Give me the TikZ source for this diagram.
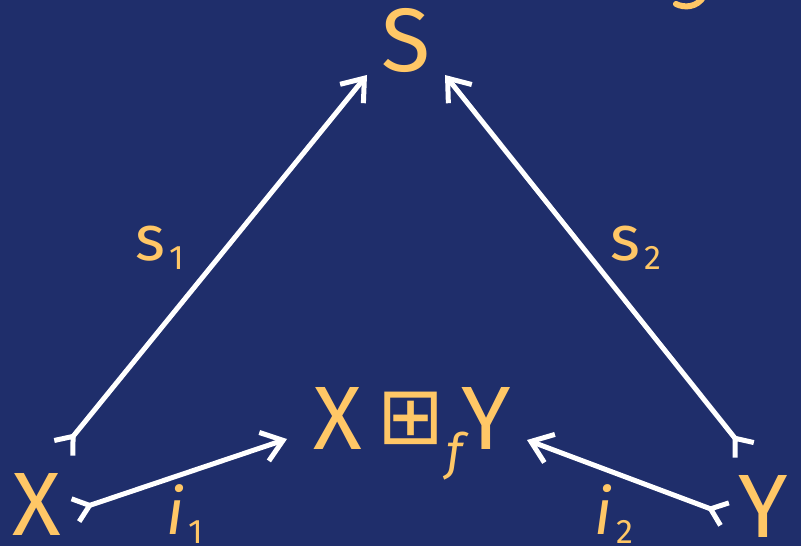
\documentclass[tikz,border=0pt]{standalone}
\usepackage{fontspec}
\setmainfont{Fira Sans}
\newfontfamily\symfont{DejaVu Sans}
\usetikzlibrary{arrows.meta,positioning}
\definecolor{bgblue}{RGB}{31,46,107}
\definecolor{labelyellow}{RGB}{255,199,102}
\newcommand{\lowsub}[1]{\kern4pt\raisebox{-9pt}{\fontsize{34}{34}\selectfont #1}}

\begin{document}
\begin{tikzpicture}[x=1pt, y=1pt,
    obj/.style={text=labelyellow, font=\fontsize{90}{90}\selectfont, inner sep=0pt, anchor=base},
    lbl/.style={text=labelyellow, font=\fontsize{64}{64}\selectfont, inner sep=0pt, anchor=base},
    mono/.style={draw=white, line width=5pt, line cap=round,
      {Straight Barb[reversed, length=15pt, width=24pt]}-{Straight Barb[length=20pt, width=30pt]}}
  ]
  % sfondo
  \fill[bgblue] (0,0) rectangle (801,546);
  \useasboundingbox (0,0) rectangle (801,546);
  \clip (0,0) rectangle (801,546);
  \draw[labelyellow, line width=6pt, line cap=round] (676,542) .. controls (684,538) and (697,538) .. (704,550);

  % oggetti
  \node (S) [obj] at (406,474) {S};
  \node (X) [obj] at (37,10) {X};
  \node (Y) [obj] at (763,8) {Y};
  \node (P) [obj] at (412,96) {X\hspace{16pt}\raisebox{6pt}{\symfont\fontsize{80}{80}\selectfont ⊞}\hspace{2pt}\raisebox{-20pt}{\itshape\fontsize{50}{50}\selectfont f}\hspace{-2pt}Y};

  % etichette
  \node (s1) [lbl] at (160,285) {s\lowsub{1}};
  \node (s2) [lbl] at (636,285) {s\lowsub{2}};
  \node (i1) [lbl] at (185,11) {\itshape i\lowsub{\upshape 1}};
  \node (i2) [lbl] at (614,11) {\itshape i\lowsub{\upshape 2}};

  % frecce
  \draw[mono] ([shift={(25,86)}]X.base) -- ([shift={(-39,-3)}]S.base);
  \draw[mono] ([shift={(-17,86)}]Y.base) -- ([shift={(39,-3)}]S.base);
  \draw[mono] ([shift={(36,25)}]X.base) -- ([shift={(-125,11)}]P.base);
  \draw[mono] ([shift={(-36,23)}]Y.base) -- ([shift={(115,10)}]P.base);
\end{tikzpicture}
\end{document}
